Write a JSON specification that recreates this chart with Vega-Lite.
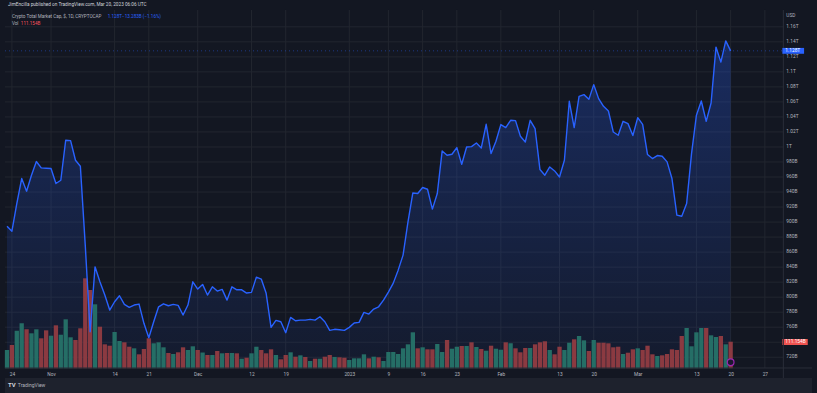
{
"$schema":"https://vega.github.io/schema/vega-lite/v6.json",
"width":817,"height":393,
"autosize":{"type":"none"},
"padding":0,
"background":"#131722",
"config":{"view":{"stroke":null},"font":"Roboto","axis":{"labelOverlap":false,"labelFlush":false,"labelBound":false,"domain":false,"ticks":false,"grid":false,"labelFontSize":4.8,"labelColor":"#b2b5be","labelFont":"Roboto","labelPadding":3}},
"datasets":{
"m":[
{"d":"2022-10-23","p":894.5,"v":76.5,"c":"up"},
{"d":"2022-10-24","p":887.9,"v":97.4,"c":"dn"},
{"d":"2022-10-25","p":924.7,"v":157.2,"c":"up"},
{"d":"2022-10-26","p":958.0,"v":188.1,"c":"up"},
{"d":"2022-10-27","p":941.1,"v":163.0,"c":"dn"},
{"d":"2022-10-28","p":962.4,"v":146.3,"c":"up"},
{"d":"2022-10-29","p":980.6,"v":163.0,"c":"up"},
{"d":"2022-10-30","p":972.1,"v":125.4,"c":"dn"},
{"d":"2022-10-31","p":971.7,"v":158.8,"c":"dn"},
{"d":"2022-11-01","p":971.3,"v":136.3,"c":"up"},
{"d":"2022-11-02","p":951.3,"v":179.7,"c":"dn"},
{"d":"2022-11-03","p":955.7,"v":140.4,"c":"up"},
{"d":"2022-11-04","p":1009.0,"v":204.8,"c":"up"},
{"d":"2022-11-05","p":1008.5,"v":129.6,"c":"up"},
{"d":"2022-11-06","p":982.3,"v":118.3,"c":"dn"},
{"d":"2022-11-07","p":974.3,"v":167.2,"c":"dn"},
{"d":"2022-11-08","p":869.3,"v":376.2,"c":"dn"},
{"d":"2022-11-09","p":754.0,"v":327.3,"c":"dn"},
{"d":"2022-11-10","p":840.4,"v":267.5,"c":"up"},
{"d":"2022-11-11","p":820.5,"v":173.9,"c":"dn"},
{"d":"2022-11-12","p":802.8,"v":100.3,"c":"dn"},
{"d":"2022-11-13","p":782.8,"v":94.5,"c":"dn"},
{"d":"2022-11-14","p":793.9,"v":151.7,"c":"up"},
{"d":"2022-11-15","p":801.9,"v":114.1,"c":"up"},
{"d":"2022-11-16","p":790.4,"v":108.7,"c":"dn"},
{"d":"2022-11-17","p":786.4,"v":90.3,"c":"dn"},
{"d":"2022-11-18","p":789.5,"v":83.6,"c":"up"},
{"d":"2022-11-19","p":790.8,"v":58.5,"c":"dn"},
{"d":"2022-11-20","p":765.2,"v":80.7,"c":"dn"},
{"d":"2022-11-21","p":746.0,"v":125.4,"c":"dn"},
{"d":"2022-11-22","p":767.3,"v":104.5,"c":"up"},
{"d":"2022-11-23","p":787.2,"v":108.7,"c":"up"},
{"d":"2022-11-24","p":791.2,"v":87.8,"c":"up"},
{"d":"2022-11-25","p":788.6,"v":64.0,"c":"dn"},
{"d":"2022-11-26","p":790.4,"v":59.8,"c":"up"},
{"d":"2022-11-27","p":789.1,"v":66.9,"c":"dn"},
{"d":"2022-11-28","p":776.2,"v":87.8,"c":"dn"},
{"d":"2022-11-29","p":789.5,"v":76.5,"c":"up"},
{"d":"2022-11-30","p":820.5,"v":92.0,"c":"up"},
{"d":"2022-12-01","p":810.8,"v":76.5,"c":"dn"},
{"d":"2022-12-02","p":817.0,"v":66.0,"c":"up"},
{"d":"2022-12-03","p":802.8,"v":55.6,"c":"dn"},
{"d":"2022-12-04","p":813.8,"v":55.6,"c":"up"},
{"d":"2022-12-05","p":808.1,"v":72.3,"c":"dn"},
{"d":"2022-12-06","p":810.4,"v":62.7,"c":"up"},
{"d":"2022-12-07","p":796.1,"v":64.0,"c":"dn"},
{"d":"2022-12-08","p":813.8,"v":64.0,"c":"up"},
{"d":"2022-12-09","p":809.8,"v":62.7,"c":"dn"},
{"d":"2022-12-10","p":809.8,"v":40.1,"c":"up"},
{"d":"2022-12-11","p":805.5,"v":44.3,"c":"dn"},
{"d":"2022-12-12","p":806.4,"v":62.7,"c":"up"},
{"d":"2022-12-13","p":826.7,"v":90.3,"c":"up"},
{"d":"2022-12-14","p":824.1,"v":76.5,"c":"dn"},
{"d":"2022-12-15","p":805.1,"v":62.7,"c":"dn"},
{"d":"2022-12-16","p":759.8,"v":79.4,"c":"dn"},
{"d":"2022-12-17","p":769.1,"v":55.6,"c":"up"},
{"d":"2022-12-18","p":767.3,"v":37.6,"c":"dn"},
{"d":"2022-12-19","p":752.7,"v":55.6,"c":"dn"},
{"d":"2022-12-20","p":773.1,"v":66.9,"c":"up"},
{"d":"2022-12-21","p":768.6,"v":48.5,"c":"dn"},
{"d":"2022-12-22","p":769.5,"v":54.3,"c":"up"},
{"d":"2022-12-23","p":769.5,"v":47.2,"c":"dn"},
{"d":"2022-12-24","p":770.5,"v":30.5,"c":"up"},
{"d":"2022-12-25","p":769.5,"v":40.1,"c":"dn"},
{"d":"2022-12-26","p":773.9,"v":40.1,"c":"up"},
{"d":"2022-12-27","p":767.3,"v":48.5,"c":"dn"},
{"d":"2022-12-28","p":755.8,"v":55.6,"c":"dn"},
{"d":"2022-12-29","p":757.2,"v":47.2,"c":"up"},
{"d":"2022-12-30","p":756.6,"v":46.0,"c":"dn"},
{"d":"2022-12-31","p":755.8,"v":44.3,"c":"dn"},
{"d":"2023-01-01","p":759.8,"v":34.7,"c":"up"},
{"d":"2023-01-02","p":765.6,"v":41.8,"c":"up"},
{"d":"2023-01-03","p":766.5,"v":41.8,"c":"up"},
{"d":"2023-01-04","p":779.8,"v":58.5,"c":"up"},
{"d":"2023-01-05","p":777.5,"v":41.8,"c":"dn"},
{"d":"2023-01-06","p":784.2,"v":48.5,"c":"up"},
{"d":"2023-01-07","p":787.2,"v":46.0,"c":"dn"},
{"d":"2023-01-08","p":796.1,"v":30.5,"c":"up"},
{"d":"2023-01-09","p":806.8,"v":68.1,"c":"up"},
{"d":"2023-01-10","p":818.7,"v":68.1,"c":"up"},
{"d":"2023-01-11","p":836.0,"v":59.8,"c":"up"},
{"d":"2023-01-12","p":856.0,"v":83.6,"c":"up"},
{"d":"2023-01-13","p":899.9,"v":100.3,"c":"up"},
{"d":"2023-01-14","p":938.8,"v":150.5,"c":"up"},
{"d":"2023-01-15","p":938.0,"v":83.6,"c":"dn"},
{"d":"2023-01-16","p":946.0,"v":87.8,"c":"up"},
{"d":"2023-01-17","p":943.7,"v":79.4,"c":"dn"},
{"d":"2023-01-18","p":917.2,"v":79.4,"c":"dn"},
{"d":"2023-01-19","p":938.0,"v":101.6,"c":"up"},
{"d":"2023-01-20","p":994.7,"v":68.1,"c":"up"},
{"d":"2023-01-21","p":989.0,"v":118.3,"c":"dn"},
{"d":"2023-01-22","p":990.3,"v":81.9,"c":"up"},
{"d":"2023-01-23","p":999.2,"v":90.3,"c":"up"},
{"d":"2023-01-24","p":977.0,"v":93.2,"c":"dn"},
{"d":"2023-01-25","p":1000.0,"v":93.2,"c":"up"},
{"d":"2023-01-26","p":1000.5,"v":108.7,"c":"dn"},
{"d":"2023-01-27","p":1005.3,"v":89.0,"c":"up"},
{"d":"2023-01-28","p":998.7,"v":80.7,"c":"dn"},
{"d":"2023-01-29","p":1030.2,"v":73.6,"c":"up"},
{"d":"2023-01-30","p":991.2,"v":94.5,"c":"dn"},
{"d":"2023-01-31","p":1007.6,"v":81.9,"c":"up"},
{"d":"2023-02-01","p":1029.8,"v":77.7,"c":"up"},
{"d":"2023-02-02","p":1025.8,"v":108.7,"c":"dn"},
{"d":"2023-02-03","p":1035.5,"v":104.5,"c":"up"},
{"d":"2023-02-04","p":1035.1,"v":83.6,"c":"dn"},
{"d":"2023-02-05","p":1014.2,"v":66.9,"c":"dn"},
{"d":"2023-02-06","p":1006.6,"v":84.9,"c":"dn"},
{"d":"2023-02-07","p":1035.5,"v":84.9,"c":"up"},
{"d":"2023-02-08","p":1024.5,"v":100.3,"c":"dn"},
{"d":"2023-02-09","p":969.9,"v":108.7,"c":"dn"},
{"d":"2023-02-10","p":962.4,"v":112.9,"c":"dn"},
{"d":"2023-02-11","p":973.4,"v":76.5,"c":"up"},
{"d":"2023-02-12","p":968.1,"v":58.5,"c":"dn"},
{"d":"2023-02-13","p":960.1,"v":90.3,"c":"dn"},
{"d":"2023-02-14","p":982.3,"v":76.5,"c":"up"},
{"d":"2023-02-15","p":1060.8,"v":107.0,"c":"up"},
{"d":"2023-02-16","p":1025.8,"v":121.2,"c":"dn"},
{"d":"2023-02-17","p":1067.4,"v":135.0,"c":"up"},
{"d":"2023-02-18","p":1069.7,"v":117.0,"c":"up"},
{"d":"2023-02-19","p":1063.4,"v":72.3,"c":"dn"},
{"d":"2023-02-20","p":1083.0,"v":118.3,"c":"up"},
{"d":"2023-02-21","p":1064.4,"v":107.0,"c":"dn"},
{"d":"2023-02-22","p":1054.1,"v":107.0,"c":"dn"},
{"d":"2023-02-23","p":1047.9,"v":104.5,"c":"dn"},
{"d":"2023-02-24","p":1019.9,"v":87.8,"c":"dn"},
{"d":"2023-02-25","p":1015.6,"v":90.3,"c":"dn"},
{"d":"2023-02-26","p":1034.2,"v":59.8,"c":"up"},
{"d":"2023-02-27","p":1031.1,"v":65.2,"c":"dn"},
{"d":"2023-02-28","p":1015.2,"v":79.4,"c":"dn"},
{"d":"2023-03-01","p":1039.1,"v":83.6,"c":"up"},
{"d":"2023-03-02","p":1030.2,"v":76.5,"c":"dn"},
{"d":"2023-03-03","p":989.9,"v":94.5,"c":"dn"},
{"d":"2023-03-04","p":984.6,"v":58.5,"c":"dn"},
{"d":"2023-03-05","p":988.6,"v":51.4,"c":"up"},
{"d":"2023-03-06","p":987.6,"v":54.3,"c":"dn"},
{"d":"2023-03-07","p":980.1,"v":59.8,"c":"dn"},
{"d":"2023-03-08","p":958.0,"v":79.4,"c":"dn"},
{"d":"2023-03-09","p":909.2,"v":76.5,"c":"dn"},
{"d":"2023-03-10","p":907.8,"v":135.0,"c":"dn"},
{"d":"2023-03-11","p":924.7,"v":168.5,"c":"up"},
{"d":"2023-03-12","p":991.2,"v":92.0,"c":"up"},
{"d":"2023-03-13","p":1042.2,"v":150.5,"c":"up"},
{"d":"2023-03-14","p":1061.2,"v":168.5,"c":"up"},
{"d":"2023-03-15","p":1034.2,"v":168.5,"c":"dn"},
{"d":"2023-03-16","p":1058.5,"v":137.9,"c":"up"},
{"d":"2023-03-17","p":1133.0,"v":130.8,"c":"up"},
{"d":"2023-03-18","p":1113.0,"v":135.0,"c":"dn"},
{"d":"2023-03-19","p":1141.3,"v":100.3,"c":"up"},
{"d":"2023-03-20","p":1128.0,"v":111.154,"c":"dn"}
],
"hg":[{"g":720,"l":"720B"},{"g":740,"l":""},{"g":760,"l":"760B"},{"g":780,"l":"780B"},{"g":800,"l":"800B"},{"g":820,"l":"820B"},{"g":840,"l":"840B"},{"g":860,"l":"860B"},{"g":880,"l":"880B"},{"g":900,"l":"900B"},{"g":920,"l":"920B"},{"g":940,"l":"940B"},{"g":960,"l":"960B"},{"g":980,"l":"980B"},{"g":1000,"l":"1T"},{"g":1020,"l":"1.02T"},{"g":1040,"l":"1.04T"},{"g":1060,"l":"1.06T"},{"g":1080,"l":"1.08T"},{"g":1100,"l":"1.1T"},{"g":1120,"l":"1.12T"},{"g":1140,"l":"1.14T"},{"g":1160,"l":"1.16T"}],
"vg":[{"t":"2022-10-24"},{"t":"2022-11-01"},{"t":"2022-11-14"},{"t":"2022-11-21"},{"t":"2022-12-01"},{"t":"2022-12-12"},{"t":"2022-12-19"},{"t":"2023-01-01"},{"t":"2023-01-09"},{"t":"2023-01-16"},{"t":"2023-01-23"},{"t":"2023-02-01"},{"t":"2023-02-13"},{"t":"2023-02-20"},{"t":"2023-03-01"},{"t":"2023-03-13"},{"t":"2023-03-20"},{"t":"2023-03-27"}]
},
"resolve":{"scale":{"y":"independent"}},
"layer":[
{"layer":[
 {"data":{"name":"vg"},"mark":{"type":"rule","stroke":"#22262f","strokeWidth":1},
  "encoding":{
   "x":{"field":"t","type":"temporal","title":null,"scale":{"type":"utc","domain":[{"year":2022,"month":10,"date":22,"hours":14,"minutes":4,"utc":true},{"year":2023,"month":4,"date":5,"hours":15,"minutes":22,"utc":true}]},
    "axis":{"orient":"bottom","offset":-25,"title":null,
     "values":[{"year":2022,"month":10,"date":24,"utc":true},{"year":2022,"month":11,"date":1,"utc":true},{"year":2022,"month":11,"date":14,"utc":true},{"year":2022,"month":11,"date":21,"utc":true},{"year":2022,"month":12,"date":1,"utc":true},{"year":2022,"month":12,"date":12,"utc":true},{"year":2022,"month":12,"date":19,"utc":true},{"year":2023,"month":1,"date":1,"utc":true},{"year":2023,"month":1,"date":9,"utc":true},{"year":2023,"month":1,"date":16,"utc":true},{"year":2023,"month":1,"date":23,"utc":true},{"year":2023,"month":2,"date":1,"utc":true},{"year":2023,"month":2,"date":13,"utc":true},{"year":2023,"month":2,"date":20,"utc":true},{"year":2023,"month":3,"date":1,"utc":true},{"year":2023,"month":3,"date":13,"utc":true},{"year":2023,"month":3,"date":20,"utc":true},{"year":2023,"month":3,"date":27,"utc":true}],
     "labelExpr":"utcdate(datum.value) == 1 ? (utcmonth(datum.value) == 0 ? utcFormat(datum.value, '%Y') : utcFormat(datum.value, '%b')) : utcFormat(datum.value, '%-d')"}},
   "y":{"datum":705.7,"type":"quantitative","scale":{"domain":[672.4,1195.7],"zero":false,"nice":false},"axis":null},
   "y2":{"datum":1182.4}}},
 {"data":{"name":"hg"},"mark":{"type":"rule","stroke":"#22262f","strokeWidth":1},
  "encoding":{
   "y":{"field":"g","type":"quantitative","title":null,"scale":{"domain":[672.4,1195.7],"zero":false,"nice":false},"axis":null},
   "x":{"datum":{"year":2022,"month":10,"date":22,"hours":14,"minutes":4,"utc":true},"type":"temporal","scale":{"type":"utc","domain":[{"year":2022,"month":10,"date":22,"hours":14,"minutes":4,"utc":true},{"year":2023,"month":4,"date":5,"hours":15,"minutes":22,"utc":true}]}},
   "x2":{"datum":{"year":2023,"month":3,"date":30,"hours":18,"minutes":43,"utc":true}}}},
 {"data":{"name":"hg"},"mark":{"type":"text","color":"#b2b5be","fontSize":4.8,"font":"Roboto","align":"left","baseline":"middle"},
  "encoding":{
   "y":{"field":"g","type":"quantitative","title":null,"scale":{"domain":[672.4,1195.7],"zero":false,"nice":false},"axis":null},
   "x":{"datum":{"year":2023,"month":3,"date":31,"hours":9,"minutes":10,"utc":true},"type":"temporal","scale":{"type":"utc","domain":[{"year":2022,"month":10,"date":22,"hours":14,"minutes":4,"utc":true},{"year":2023,"month":4,"date":5,"hours":15,"minutes":22,"utc":true}]}},
   "text":{"field":"l","type":"nominal"}}},
 {"data":{"name":"m"},
  "mark":{"type":"area","line":false,"color":{"gradient":"linear","x1":0,"y1":0,"x2":0,"y2":1,"stops":[{"offset":0,"color":"rgba(41,98,255,0.28)"},{"offset":1,"color":"rgba(41,98,255,0.05)"}]}},
  "encoding":{
   "x":{"field":"d","type":"temporal","title":null,"scale":{"type":"utc","domain":[{"year":2022,"month":10,"date":22,"hours":14,"minutes":4,"utc":true},{"year":2023,"month":4,"date":5,"hours":15,"minutes":22,"utc":true}]}},
   "y":{"field":"p","type":"quantitative","title":null,"scale":{"domain":[672.4,1195.7],"zero":false,"nice":false},"axis":null},
   "y2":{"datum":705.7}}}
]},
{"layer":[
 {"data":{"name":"m"},"mark":{"type":"bar","width":4.3},
  "encoding":{
   "x":{"field":"d","type":"temporal","title":null,"scale":{"type":"utc","domain":[{"year":2022,"month":10,"date":22,"hours":14,"minutes":4,"utc":true},{"year":2023,"month":4,"date":5,"hours":15,"minutes":22,"utc":true}]}},
   "y":{"field":"v","type":"quantitative","title":null,"scale":{"domain":[-103.2,1539.5],"zero":false,"nice":false},"axis":null},
   "y2":{"datum":0},
   "color":{"field":"c","type":"nominal","scale":{"domain":["up","dn"],"range":["#256e66","#8b3a41"]},"legend":null}}},
 {"data":{"values":[{}]},"mark":{"type":"rect","fill":"#ef5350"},
  "encoding":{
   "x":{"datum":{"year":2023,"month":3,"date":30,"hours":13,"minutes":55,"utc":true},"type":"temporal","scale":{"type":"utc","domain":[{"year":2022,"month":10,"date":22,"hours":14,"minutes":4,"utc":true},{"year":2023,"month":4,"date":5,"hours":15,"minutes":22,"utc":true}]}},
   "x2":{"datum":{"year":2023,"month":4,"date":4,"hours":18,"minutes":30,"utc":true}},
   "y":{"datum":122.5,"type":"quantitative","scale":{"domain":[-103.2,1539.5],"zero":false,"nice":false},"axis":null},
   "y2":{"datum":97.4}}},
 {"data":{"values":[{}]},"mark":{"type":"text","text":"111.154B","color":"#ffffff","fontSize":4.8,"font":"Roboto","align":"left","baseline":"middle"},
  "encoding":{
   "x":{"datum":{"year":2023,"month":3,"date":31,"hours":4,"minutes":19,"utc":true},"type":"temporal","scale":{"type":"utc","domain":[{"year":2022,"month":10,"date":22,"hours":14,"minutes":4,"utc":true},{"year":2023,"month":4,"date":5,"hours":15,"minutes":22,"utc":true}]}},
   "y":{"datum":110,"type":"quantitative","scale":{"domain":[-103.2,1539.5],"zero":false,"nice":false},"axis":null}}},
 {"data":{"values":[{}]},"mark":{"type":"point","shape":"circle","size":45,"filled":true,"fill":"#1c1830","stroke":"#9c27b0","strokeWidth":1.2,"opacity":1},
  "encoding":{
   "x":{"datum":{"year":2023,"month":3,"date":20,"utc":true},"type":"temporal","scale":{"type":"utc","domain":[{"year":2022,"month":10,"date":22,"hours":14,"minutes":4,"utc":true},{"year":2023,"month":4,"date":5,"hours":15,"minutes":22,"utc":true}]}},
   "y":{"datum":25.1,"type":"quantitative","scale":{"domain":[-103.2,1539.5],"zero":false,"nice":false},"axis":null}}}
]},
{"layer":[
 {"data":{"name":"m"},"mark":{"type":"line","stroke":"#2962ff","strokeWidth":1.4,"strokeJoin":"round"},
  "encoding":{
   "x":{"field":"d","type":"temporal","title":null,"scale":{"type":"utc","domain":[{"year":2022,"month":10,"date":22,"hours":14,"minutes":4,"utc":true},{"year":2023,"month":4,"date":5,"hours":15,"minutes":22,"utc":true}]}},
   "y":{"field":"p","type":"quantitative","title":null,"scale":{"domain":[672.4,1195.7],"zero":false,"nice":false},"axis":null}}},
 {"data":{"values":[{}]},"mark":{"type":"rule","stroke":"#2962ff","strokeWidth":1,"strokeDash":[1,3],"opacity":0.45},
  "encoding":{
   "y":{"datum":1128,"type":"quantitative","scale":{"domain":[672.4,1195.7],"zero":false,"nice":false},"axis":null},
   "x":{"datum":{"year":2022,"month":10,"date":22,"hours":14,"minutes":4,"utc":true},"type":"temporal","scale":{"type":"utc","domain":[{"year":2022,"month":10,"date":22,"hours":14,"minutes":4,"utc":true},{"year":2023,"month":4,"date":5,"hours":15,"minutes":22,"utc":true}]}},
   "x2":{"datum":{"year":2023,"month":3,"date":30,"hours":18,"minutes":43,"utc":true}}}},
 {"data":{"values":[{}]},"mark":{"type":"rule","stroke":"#2a2e39","strokeWidth":1},
  "encoding":{
   "x":{"datum":{"year":2023,"month":3,"date":30,"hours":18,"minutes":43,"utc":true},"type":"temporal","scale":{"type":"utc","domain":[{"year":2022,"month":10,"date":22,"hours":14,"minutes":4,"utc":true},{"year":2023,"month":4,"date":5,"hours":15,"minutes":22,"utc":true}]}},
   "y":{"datum":692.4,"type":"quantitative","scale":{"domain":[672.4,1195.7],"zero":false,"nice":false},"axis":null},
   "y2":{"datum":1182.4}}},
 {"data":{"values":[{}]},"mark":{"type":"rule","stroke":"#2a2e39","strokeWidth":1},
  "encoding":{
   "y":{"datum":705.7,"type":"quantitative","scale":{"domain":[672.4,1195.7],"zero":false,"nice":false},"axis":null},
   "x":{"datum":{"year":2022,"month":10,"date":22,"hours":14,"minutes":4,"utc":true},"type":"temporal","scale":{"type":"utc","domain":[{"year":2022,"month":10,"date":22,"hours":14,"minutes":4,"utc":true},{"year":2023,"month":4,"date":5,"hours":15,"minutes":22,"utc":true}]}},
   "x2":{"datum":{"year":2023,"month":4,"date":5,"hours":15,"minutes":22,"utc":true}}}},
 {"data":{"values":[{}]},"mark":{"type":"rect","fill":"#1e222d"},
  "encoding":{
   "x":{"datum":{"year":2022,"month":10,"date":22,"hours":14,"minutes":4,"utc":true},"type":"temporal","scale":{"type":"utc","domain":[{"year":2022,"month":10,"date":22,"hours":14,"minutes":4,"utc":true},{"year":2023,"month":4,"date":5,"hours":15,"minutes":22,"utc":true}]}},
   "x2":{"datum":{"year":2023,"month":4,"date":5,"hours":15,"minutes":22,"utc":true}},
   "y":{"datum":692.4,"type":"quantitative","scale":{"domain":[672.4,1195.7],"zero":false,"nice":false},"axis":null},
   "y2":{"datum":672.4}}},
 {"data":{"values":[{}]},"mark":{"type":"rect","fill":"#2962ff"},
  "encoding":{
   "x":{"datum":{"year":2023,"month":3,"date":30,"hours":13,"minutes":55,"utc":true},"type":"temporal","scale":{"type":"utc","domain":[{"year":2022,"month":10,"date":22,"hours":14,"minutes":4,"utc":true},{"year":2023,"month":4,"date":5,"hours":15,"minutes":22,"utc":true}]}},
   "x2":{"datum":{"year":2023,"month":4,"date":4,"minutes":29,"utc":true}},
   "y":{"datum":1131.9,"type":"quantitative","scale":{"domain":[672.4,1195.7],"zero":false,"nice":false},"axis":null},
   "y2":{"datum":1124.1}}},
 {"data":{"values":[{}]},"mark":{"type":"text","text":"1.128T","color":"#ffffff","fontSize":4.8,"font":"Roboto","align":"left","baseline":"middle"},
  "encoding":{
   "x":{"datum":{"year":2023,"month":3,"date":31,"hours":4,"minutes":19,"utc":true},"type":"temporal","scale":{"type":"utc","domain":[{"year":2022,"month":10,"date":22,"hours":14,"minutes":4,"utc":true},{"year":2023,"month":4,"date":5,"hours":15,"minutes":22,"utc":true}]}},
   "y":{"datum":1128,"type":"quantitative","scale":{"domain":[672.4,1195.7],"zero":false,"nice":false},"axis":null}}},
 {"data":{"values":[{}]},"mark":{"type":"text","text":"USD","color":"#b2b5be","fontSize":4.8,"font":"Roboto","align":"left","baseline":"middle"},
  "encoding":{
   "x":{"datum":{"year":2023,"month":3,"date":31,"hours":9,"minutes":10,"utc":true},"type":"temporal","scale":{"type":"utc","domain":[{"year":2022,"month":10,"date":22,"hours":14,"minutes":4,"utc":true},{"year":2023,"month":4,"date":5,"hours":15,"minutes":22,"utc":true}]}},
   "y":{"datum":1174.8,"type":"quantitative","scale":{"domain":[672.4,1195.7],"zero":false,"nice":false},"axis":null}}},
 {"data":{"values":[{}]},"mark":{"type":"text","text":"JimEncilla published on TradingView.com, Mar 20, 2023 06:06 UTC","color":"#d1d4dc","fontSize":4.7,"font":"Roboto","align":"left","baseline":"middle"},
  "encoding":{
   "x":{"datum":{"year":2022,"month":10,"date":23,"hours":4,"minutes":37,"utc":true},"type":"temporal","scale":{"type":"utc","domain":[{"year":2022,"month":10,"date":22,"hours":14,"minutes":4,"utc":true},{"year":2023,"month":4,"date":5,"hours":15,"minutes":22,"utc":true}]}},
   "y":{"datum":1188.7,"type":"quantitative","scale":{"domain":[672.4,1195.7],"zero":false,"nice":false},"axis":null}}},
 {"data":{"values":[{}]},"mark":{"type":"text","text":"Crypto Total Market Cap, $, 1D, CRYPTOCAP","color":"#b2b5be","fontSize":4.6,"font":"Roboto","align":"left","baseline":"middle"},
  "encoding":{
   "x":{"datum":{"year":2022,"month":10,"date":24,"utc":true},"type":"temporal","scale":{"type":"utc","domain":[{"year":2022,"month":10,"date":22,"hours":14,"minutes":4,"utc":true},{"year":2023,"month":4,"date":5,"hours":15,"minutes":22,"utc":true}]}},
   "y":{"datum":1173.5,"type":"quantitative","scale":{"domain":[672.4,1195.7],"zero":false,"nice":false},"axis":null}}},
 {"data":{"values":[{}]},"mark":{"type":"text","text":"1.128T","color":"#2962ff","fontSize":4.6,"font":"Roboto","align":"left","baseline":"middle"},
  "encoding":{
   "x":{"datum":{"year":2022,"month":11,"date":12,"hours":14,"minutes":24,"utc":true},"type":"temporal","scale":{"type":"utc","domain":[{"year":2022,"month":10,"date":22,"hours":14,"minutes":4,"utc":true},{"year":2023,"month":4,"date":5,"hours":15,"minutes":22,"utc":true}]}},
   "y":{"datum":1173.5,"type":"quantitative","scale":{"domain":[672.4,1195.7],"zero":false,"nice":false},"axis":null}}},
 {"data":{"values":[{}]},"mark":{"type":"text","text":"−13.283B (−1.16%)","color":"#2962ff","fontSize":4.6,"font":"Roboto","align":"left","baseline":"middle"},
  "encoding":{
   "x":{"datum":{"year":2022,"month":11,"date":15,"hours":12,"minutes":40,"utc":true},"type":"temporal","scale":{"type":"utc","domain":[{"year":2022,"month":10,"date":22,"hours":14,"minutes":4,"utc":true},{"year":2023,"month":4,"date":5,"hours":15,"minutes":22,"utc":true}]}},
   "y":{"datum":1173.5,"type":"quantitative","scale":{"domain":[672.4,1195.7],"zero":false,"nice":false},"axis":null}}},
 {"data":{"values":[{}]},"mark":{"type":"text","text":"Vol","color":"#b2b5be","fontSize":4.6,"font":"Roboto","align":"left","baseline":"middle"},
  "encoding":{
   "x":{"datum":{"year":2022,"month":10,"date":24,"utc":true},"type":"temporal","scale":{"type":"utc","domain":[{"year":2022,"month":10,"date":22,"hours":14,"minutes":4,"utc":true},{"year":2023,"month":4,"date":5,"hours":15,"minutes":22,"utc":true}]}},
   "y":{"datum":1163.8,"type":"quantitative","scale":{"domain":[672.4,1195.7],"zero":false,"nice":false},"axis":null}}},
 {"data":{"values":[{}]},"mark":{"type":"text","text":"111.154B","color":"#f7525f","fontSize":4.6,"font":"Roboto","align":"left","baseline":"middle"},
  "encoding":{
   "x":{"datum":{"year":2022,"month":10,"date":25,"hours":19,"minutes":38,"utc":true},"type":"temporal","scale":{"type":"utc","domain":[{"year":2022,"month":10,"date":22,"hours":14,"minutes":4,"utc":true},{"year":2023,"month":4,"date":5,"hours":15,"minutes":22,"utc":true}]}},
   "y":{"datum":1163.8,"type":"quantitative","scale":{"domain":[672.4,1195.7],"zero":false,"nice":false},"axis":null}}},
 {"data":{"values":[{}]},"mark":{"type":"text","text":"TV","color":"#d1d4dc","fontSize":6,"fontWeight":"bold","font":"Roboto","align":"left","baseline":"middle"},
  "encoding":{
   "x":{"datum":{"year":2022,"month":10,"date":23,"hours":4,"minutes":37,"utc":true},"type":"temporal","scale":{"type":"utc","domain":[{"year":2022,"month":10,"date":22,"hours":14,"minutes":4,"utc":true},{"year":2023,"month":4,"date":5,"hours":15,"minutes":22,"utc":true}]}},
   "y":{"datum":682.4,"type":"quantitative","scale":{"domain":[672.4,1195.7],"zero":false,"nice":false},"axis":null}}},
 {"data":{"values":[{}]},"mark":{"type":"text","text":"TradingView","color":"#b2b5be","fontSize":5,"font":"Roboto","align":"left","baseline":"middle"},
  "encoding":{
   "x":{"datum":{"year":2022,"month":10,"date":25,"hours":5,"minutes":5,"utc":true},"type":"temporal","scale":{"type":"utc","domain":[{"year":2022,"month":10,"date":22,"hours":14,"minutes":4,"utc":true},{"year":2023,"month":4,"date":5,"hours":15,"minutes":22,"utc":true}]}},
   "y":{"datum":682.4,"type":"quantitative","scale":{"domain":[672.4,1195.7],"zero":false,"nice":false},"axis":null}}}
]}
]
}
